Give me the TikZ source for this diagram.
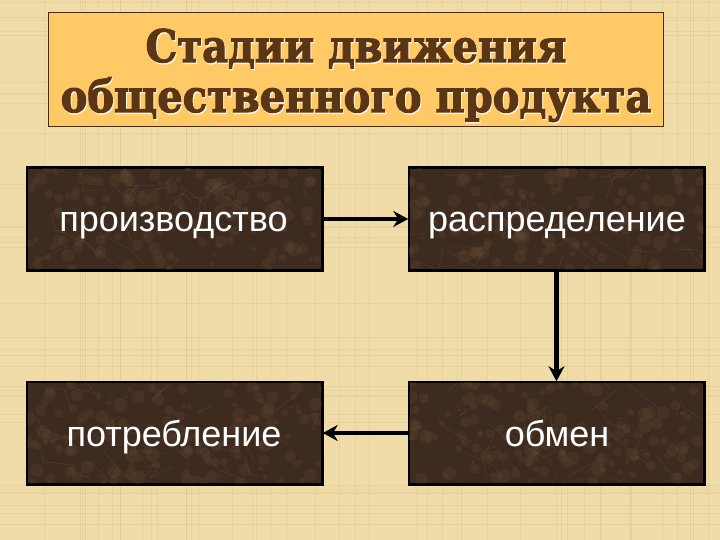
\documentclass[tikz,border=0pt]{standalone}
\usepackage{fontspec}
\setmainfont{Liberation Sans}
\newfontfamily\titlefont[FakeBold=2.5]{DejaVu Serif}
\usetikzlibrary{arrows.meta,calc}
\definecolor{parch}{HTML}{EFDCA9}
\definecolor{parchline}{HTML}{D9BF86}
\definecolor{titlefill}{HTML}{FFC966}
\definecolor{titletext}{HTML}{5A3614}
\definecolor{marble}{HTML}{3E2B1F}
\definecolor{vein}{HTML}{8A6A4E}
\definecolor{mottle}{HTML}{6B4E38}
\tikzset{
  stage/.style={draw=black, line width=1.5pt, fill=marble, minimum width=295pt, minimum height=102pt, inner sep=0pt},
  stagetext/.style={anchor=base, text=white, inner sep=0pt, font=\fontsize{36}{40}\selectfont},
  titleline/.style={anchor=base, inner sep=0pt, font=\titlefont\bfseries\fontsize{40}{48}\selectfont},
  flow/.style={draw=black, line width=4.5pt, -{Stealth[length=15pt,width=16pt]}},
}
\newcommand{\marbleveins}[1]{%
  \begin{scope}
    \clip (#1.south west) rectangle (#1.north east);
    \foreach \i in {1,...,140}{
      \pgfmathsetmacro{\xa}{rnd*295}
      \pgfmathsetmacro{\ya}{rnd*102}
      \pgfmathsetmacro{\rr}{2+rnd*5}
      \fill[mottle, opacity=0.22] ($(#1.north west)+(\xa,\ya)$) circle[radius=\rr];
    }
    \foreach \i in {1,...,35}{
      \pgfmathsetmacro{\xa}{rnd*295}
      \pgfmathsetmacro{\ya}{rnd*102}
      \pgfmathsetmacro{\dx}{(rnd-0.5)*70}
      \pgfmathsetmacro{\dy}{(rnd-0.5)*50}
      \draw[vein, opacity=0.25, line width=0.5pt]
        ($(#1.north west)+(\xa,\ya)$) -- ++(\dx,\dy) -- ++(\dy*0.6,\dx*0.4);
    }
  \end{scope}
  \draw[black, line width=1.5pt] (#1.south west) rectangle (#1.north east);
}
\begin{document}
\begin{tikzpicture}[x=1pt,y=-1pt]
\pgfmathsetseed{7}
\fill[parch] (0,0) rectangle (720,540);
\useasboundingbox (0,0) rectangle (720,540);
\foreach \i in {1,...,45}{
  \pgfmathsetmacro{\xa}{rnd*720}
  \draw[parchline, opacity=0.35, line width=0.6pt] (\xa,0) -- (\xa,540);
}
\foreach \i in {1,...,35}{
  \pgfmathsetmacro{\ya}{rnd*540}
  \draw[parchline, opacity=0.3, line width=0.6pt] (0,\ya) -- (720,\ya);
}
\node[draw=titletext!80!black, line width=0.8pt, fill=titlefill, minimum width=615pt, minimum height=114pt, inner sep=0pt] (title) at (355.5,69) {};
\node[titleline, text=white!80!titlefill] at (357,63.5) {\scalebox{1}[1.12]{Стадии движения}};
\node[titleline, text=titletext] (t1) at (356,62) {\scalebox{1}[1.12]{Стадии движения}};
\node[titleline, text=white!80!titlefill] at (357,113.5) {\scalebox{1}[1.12]{общественного продукта}};
\node[titleline, text=titletext] (t2) at (356,112) {\scalebox{1}[1.12]{общественного продукта}};
\node[stage] (prod) at (174.5,219) {};
\node[stage] (dist) at (556.5,219) {};
\node[stage] (cons) at (174.5,433) {};
\node[stage] (exch) at (556.5,433) {};
\marbleveins{prod}
\marbleveins{dist}
\marbleveins{cons}
\marbleveins{exch}
\node[stagetext] (prodt) at (173.5,232) {производство};
\node[stagetext] (distt) at (557,232) {распределение};
\node[stagetext] (const) at (174,446) {потребление};
\node[stagetext] (excht) at (557,446) {обмен};
\draw[flow] (prod.east) -- (dist.west);
\draw[flow] (dist.south) -- (exch.north);
\draw[flow] (exch.west) -- (cons.east);
\end{tikzpicture}
\end{document}
